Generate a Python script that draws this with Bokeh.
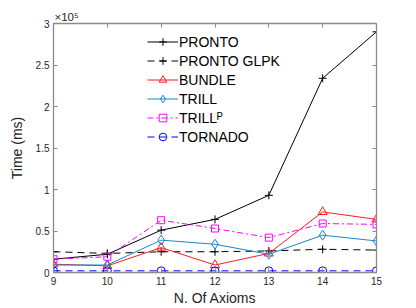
from bokeh.plotting import figure
from bokeh.models import (FixedTicker, LinearAxis, Title, Legend, LegendItem,
                          CustomJSTickFormatter)
from bokeh.embed import file_html
from bokeh.resources import INLINE

axioms = [9, 10, 11, 12, 13, 14, 15]
pronto = [16000, 22000, 51000, 64000, 93000, 234000, 290000]
pronto_glpk = [25000, 23000, 25000, 25000, 26000, 28000, 27000]
bundle = [10000, 8000, 30000, 9000, 23000, 73000, 64000]
trill = [9000, 9000, 39000, 34000, 22000, 45000, 38000]
trill_p = [16000, 19000, 63000, 53000, 42000, 59000, 58000]
tornado = [2000, 2000, 2000, 2000, 2000, 2000, 2000]

y_ticks = [0, 50000, 100000, 150000, 200000, 250000, 300000]
y_tick_labels = ["0", "0.5", "1", "1.5", "2", "2.5", "3"]
x_ticks = [9, 10, 11, 12, 13, 14, 15]

FONT = "Liberation Sans"
AX = "#8a8a8a"

p = figure(width=416, height=308,
           min_border_left=53, min_border_top=23, min_border_right=40,
           min_border_bottom=35, x_range=(9, 15), y_range=(0, 300000),
           output_backend="svg", toolbar_location=None)
p.xgrid.visible = False
p.ygrid.visible = False
p.outline_line_color = AX
p.background_fill_color = "white"
p.border_fill_color = "white"

def style(ax):
    ax.axis_line_color = AX
    ax.axis_line_width = 1.3
    ax.major_tick_line_color = AX
    ax.major_tick_in = 4
    ax.major_tick_out = 0
    ax.minor_tick_line_color = None
    ax.major_label_text_font = FONT
    ax.major_label_text_font_size = "10px"
    ax.major_label_text_color = "#262626"
    ax.axis_label_text_font = FONT
    ax.axis_label_text_font_style = "normal"
    ax.axis_label_text_font_size = "14px"
    ax.axis_label_text_color = "#262626"

xa = p.xaxis[0]
ya = p.yaxis[0]
style(xa)
style(ya)
xa.ticker = FixedTicker(ticks=x_ticks)
ya.ticker = FixedTicker(ticks=y_ticks)
ya.major_label_overrides = {t: l for t, l in zip(y_ticks, y_tick_labels)}
xa.axis_label = "N. Of Axioms"
ya.axis_label = "Time (ms)"
xa.major_label_standoff = 4
ya.major_label_standoff = 4
xa.axis_label_standoff = 2
ya.axis_label_standoff = 8

blank = CustomJSTickFormatter(code="return ''")
top = LinearAxis(ticker=FixedTicker(ticks=x_ticks), formatter=blank)
right = LinearAxis(ticker=FixedTicker(ticks=y_ticks), formatter=blank)
style(top)
style(right)
top.major_label_standoff = 0
right.major_label_standoff = 0
p.add_layout(top, "above")
p.add_layout(right, "right")

series = [
    ("PRONTO", pronto, "#000000", "solid", "cross", 8),
    ("PRONTO GLPK", pronto_glpk, "#000000", "7 5", "cross", 8),
    ("BUNDLE", bundle, "#ff1a1a", "solid", "triangle", 9),
    ("TRILL", trill, "#1a86cc", "solid", "diamond", 10),
    ("TRILL\u1d3e", trill_p, "#ff00ff", "6 3 2 3", "square", 7),
    ("TORNADO", tornado, "#0000ff", "7 5", "circle", 8),
]

items = []
for name, ys, col, dash, mk, sz in series:
    r1 = p.line(axioms, ys, line_color=col, line_width=1, line_dash=dash)
    r2 = p.scatter(axioms, ys, marker=mk, size=sz, line_color=col,
                   fill_color=None, line_width=1)
    items.append(LegendItem(label=name, renderers=[r1, r2]))

leg = Legend(items=items, location=(94, 126))
leg.border_line_color = None
leg.background_fill_alpha = 0
leg.padding = 0
leg.margin = 0
leg.spacing = 0
leg.glyph_width = 31
leg.glyph_height = 19
leg.label_standoff = 1
leg.label_text_font = FONT
leg.label_text_font_size = "14px"
leg.label_text_color = "#000000"
leg.label_height = 19
p.add_layout(leg)

p.add_layout(Title(text="\u00d710\u2075", text_font=FONT, text_font_size="11.5px",
                   text_font_style="normal", text_color="#262626",
                   align="left", standoff=1, offset=1), "above")

open("out.html", "w").write(file_html(p, INLINE))
